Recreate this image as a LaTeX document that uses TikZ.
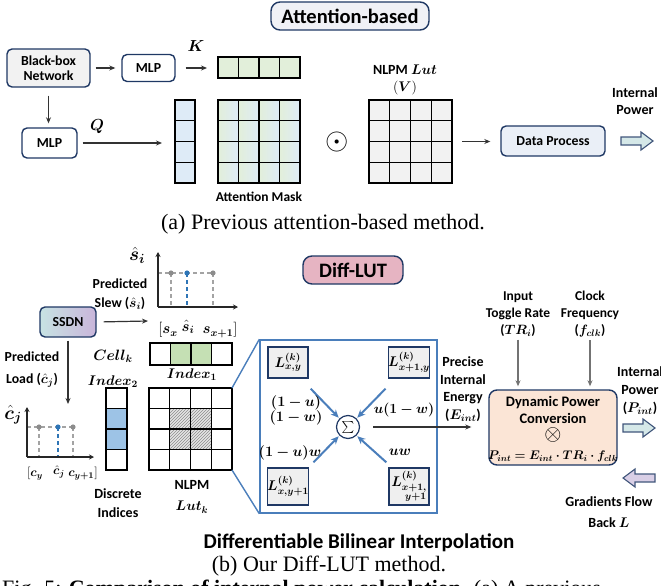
\RequirePackage{fix-cm}
\documentclass[tikz,border=0pt]{standalone}
\usepackage{amsmath}
\usepackage{bm}
\usepackage{fontspec}
\setmainfont{Carlito}
\newfontfamily\capfont{Liberation Serif}
\usetikzlibrary{arrows.meta,patterns,calc}
\definecolor{navy}{HTML}{1F3864}
\definecolor{titlefill}{HTML}{F0F1F6}
\definecolor{bbfill}{HTML}{F2F2F2}
\definecolor{kgreen}{HTML}{E2EFDA}
\definecolor{qblue}{HTML}{DEEBF7}
\definecolor{vgray}{HTML}{F2F2F2}
\definecolor{dpfill}{HTML}{EAEFF7}
\definecolor{tealarr}{HTML}{D5E8E8}
\definecolor{pinkfill}{HTML}{E6B4C2}
\definecolor{ssdnl}{HTML}{C7E3E3}
\definecolor{ssdnr}{HTML}{C9B5DA}
\definecolor{cgreen}{HTML}{C5E0B4}
\definecolor{iblue}{HTML}{9DC3E6}
\definecolor{ibord}{HTML}{4A7EBB}
\definecolor{sbox}{HTML}{EFEFEF}
\definecolor{dpcfill}{HTML}{FBE5D6}
\definecolor{lavarr}{HTML}{D9CFE6}
\definecolor{dotblue}{HTML}{2E75B6}
\definecolor{dotgray}{HTML}{8C8C8C}
\newcommand{\gridV}[2]{\foreach \ff in {#2} \draw[gridln] ($(#1.north west)!\ff!(#1.north east)$) -- ($(#1.south west)!\ff!(#1.south east)$);}
\newcommand{\gridH}[2]{\foreach \ff in {#2} \draw[gridln] ($(#1.north west)!\ff!(#1.south west)$) -- ($(#1.north east)!\ff!(#1.south east)$);}
\newcommand{\frameit}[1]{\draw[gridln] (#1.north west) rectangle (#1.south east);}
% fat hollow arrows: #1 centre coordinate, #2 fill, #3 direction (1 right, -1 left)
\newcommand{\fatarrow}[3]{\draw[fatst, fill=#2] ($(#1)+(-16*#3,-4)$) -- ++(20*#3,0) -- ++(0,-5) -- ++(12*#3,9) -- ++(-12*#3,9) -- ++(0,-5) -- ++(-20*#3,0) -- cycle;}
\tikzset{
 rbox/.style={draw=navy, line width=1.4pt, rounded corners=5pt, align=center, font=\fontsize{13.8}{15}\selectfont\bfseries, inner sep=1pt},
 lbl/.style={align=center, font=\fontsize{14}{17}\selectfont\bfseries, inner sep=1pt},
 mlbl/.style={align=center, font=\fontsize{14}{16}\selectfont, inner sep=1pt},
 arr/.style={draw=black!80, line width=1.1pt, -{Stealth[length=6pt,width=5pt]}},
 garr/.style={draw=black!55, line width=1.2pt, -{Stealth[length=6pt,width=5pt]}},
 barr/.style={draw=ibord, line width=2pt, -{Stealth[length=8pt,width=7pt]}},
 gridln/.style={draw=black, line width=1.3pt},
 emptybox/.style={inner sep=0pt, outer sep=0pt},
 fatst/.style={draw=navy!85, line width=1.1pt, line join=miter},
 sbx/.style={draw=navy, line width=1.3pt, fill=sbox, minimum width=40pt, inner sep=0pt, align=center, font=\fontsize{14}{14}\selectfont},
 dashg/.style={draw=dotgray!80, line width=1.1pt, dash pattern=on 4pt off 3pt},
 dashb/.style={draw=dotblue, line width=1.3pt, dash pattern=on 4pt off 3pt},
 axis/.style={draw=black!85, line width=1.3pt, -{Stealth[length=5pt,width=5pt]}},
}
\begin{document}
\begin{tikzpicture}[x=1pt,y=-1pt]
\useasboundingbox (0,0) rectangle (661,586);
% ---------------- (a) ----------------
\node[rbox, fill=titlefill, minimum width=158pt, minimum height=28pt, rounded corners=9pt, font=\fontsize{20.5}{22}\selectfont\bfseries] (t1) at (350,16) {Attention-based};
\node[rbox, fill=bbfill, minimum width=83pt, minimum height=38pt] (bb) at (48.5,68) {Black-box\\Network};
\node[rbox, fill=white, minimum width=53pt, minimum height=27pt] (mlp1) at (148.5,68) {MLP};
\node[emptybox, fill=kgreen, minimum width=82pt, minimum height=21pt] (krow) at (259,67.5) {};
\gridV{krow}{0.25,0.5,0.75}\frameit{krow}
\draw[arr, shorten <=5pt, shorten >=6pt] (bb.east) -- (bb.east -| mlp1.west);
\draw[arr, shorten <=10pt, shorten >=11pt] (mlp1.east) -- (mlp1.east -| krow.west);
\node[mlbl, font=\fontsize{16}{16}\selectfont] (klab) at (196,46) {$\bm{K}$};
\node[rbox, fill=white, minimum width=55pt, minimum height=30pt] (mlp2) at (49.5,143) {MLP};
\draw[arr, shorten <=8pt, shorten >=4pt] (bb.south) -- (bb.south |- mlp2.north);
\node[emptybox, fill=qblue, minimum width=20pt, minimum height=83pt] (qcol) at (185,141.5) {};
\gridH{qcol}{0.25,0.5,0.75}\frameit{qcol}
\draw[arr, shorten <=5pt, shorten >=13pt] (mlp2.east) -- (mlp2.east -| qcol.west);
\node[mlbl, font=\fontsize{16}{16}\selectfont] (qlab) at (97,127) {$\bm{Q}$};
\node[emptybox, minimum width=82pt, minimum height=83pt] (mask) at (259,141.5) {};
\foreach \i in {0,1,2,3} \foreach \j in {0,1,2,3}
  \shade[left color=kgreen, right color=qblue] ($(mask.north west)+(\i*20.5,\j*20.75)$) rectangle ++(20.5,20.75);
\gridV{mask}{0.25,0.5,0.75}\gridH{mask}{0.25,0.5,0.75}\frameit{mask}
\node[lbl, font=\fontsize{13.5}{15}\selectfont\bfseries] (amlab) at (259,197) {Attention Mask};
\node[font=\fontsize{30}{30}\selectfont, inner sep=0pt] (odot) at (337,142) {$\odot$};
\node[emptybox, fill=vgray, minimum width=83pt, minimum height=83pt] (vgrid) at (410.5,141.5) {};
\gridV{vgrid}{0.25,0.5,0.75}\gridH{vgrid}{0.25,0.5,0.75}\frameit{vgrid}
\node[lbl, font=\fontsize{14}{17}\selectfont\bfseries] (vlab) at (405,80) {NLPM $\bm{Lut}$\\$(\bm{V})$};
\node[rbox, fill=dpfill, minimum width=104pt, minimum height=30pt] (dp) at (553,141) {Data Process};
\draw[arr, shorten <=10pt, shorten >=10pt] (vgrid.east) -- (vgrid.east -| dp.west);
\coordinate (outa) at (637,141);
\fatarrow{outa}{tealarr}{1}
\node[lbl] (ipa) at (635,101) {Internal\\Power};
\node[font=\capfont\fontsize{22}{24}\selectfont, inner sep=0pt] (capa) at (323,224) {(a) Previous attention-based method.};
% ---------------- (b) ----------------
\node[rbox, fill=pinkfill, minimum width=100pt, minimum height=28pt, rounded corners=9pt, font=\fontsize{20.5}{22}\selectfont\bfseries] (dl) at (353,270) {Diff-LUT};
\node[rbox, left color=ssdnl, right color=ssdnr, minimum width=56pt, minimum height=30pt] (ssdn) at (68,322) {SSDN};
% slew plot
\coordinate (so) at (158,307);
\coordinate (sy) at (158,252);
\coordinate (sx) at (238,307);
\coordinate (d1) at (171,273);
\coordinate (d2) at (187,273);
\coordinate (d3) at (213,273);
\draw[dashg] (so |- d1) -- (d3);
\draw[dashg] (d1) -- (d1 |- so);
\draw[dashg] (d3) -- (d3 |- so);
\draw[dashb] (d2) -- (d2 |- so);
\fill[dotgray] (d1) circle (2.6pt);
\fill[dotgray] (d3) circle (2.6pt);
\fill[dotblue] (d2) circle (2.6pt);
\draw[axis] (so) -- (sy);
\draw[axis] (so) -- (sx);
\coordinate (sin) at (148,321);
\draw[arr, line width=1.2pt, shorten <=7pt] (ssdn.east) -- (sin);
\node[lbl, font=\fontsize{13.8}{17}\selectfont\bfseries] (pslew) at (120,294) {Predicted\\[2pt]Slew ($\hat{\bm{s}}_{\bm{i}}$)};
\node[mlbl, font=\fontsize{19}{19}\selectfont] (shat) at (137,255) {$\hat{\bm{s}}_{\bm{i}}$};
\node[mlbl, font=\fontsize{15}{15}\selectfont] (sx1) at (168,330) {$[\bm{s_x}$};
\node[mlbl, font=\fontsize{15}{15}\selectfont] (sx2) at (188,327) {$\hat{\bm{s}}_{\bm{i}}$};
\node[mlbl, font=\fontsize{15}{15}\selectfont] (sx3) at (220,330) {$\bm{s_{x+1}}]$};
% load plot
\coordinate (lo) at (27,457);
\coordinate (ly) at (27,407);
\coordinate (lx) at (94,457);
\coordinate (e1) at (39,427);
\coordinate (e2) at (58,427);
\coordinate (e3) at (73,427);
\draw[dashg] (lo |- e1) -- (e3);
\draw[dashg] (e1) -- (e1 |- lo);
\draw[dashg] (e3) -- (e3 |- lo);
\draw[dashb] (e2) -- (e2 |- lo);
\fill[dotgray] (e1) circle (2.6pt);
\fill[dotgray] (e3) circle (2.6pt);
\fill[dotblue] (e2) circle (2.6pt);
\draw[axis] (lo) -- (ly);
\draw[axis] (lo) -- (lx);
\coordinate (lin) at (68,404);
\draw[arr, line width=1.2pt, shorten <=3pt] (ssdn.south) -- (lin);
\node[lbl, font=\fontsize{13.8}{17}\selectfont\bfseries] (pload) at (32,370) {Predicted\\[5pt]Load ($\hat{\bm{c}}_{\bm{j}}$)};
\node[mlbl, font=\fontsize{19}{19}\selectfont] (chat) at (13,415) {$\hat{\bm{c}}_{\bm{j}}$};
\node[mlbl, font=\fontsize{12.5}{12}\selectfont] (cx1) at (35,474) {$[\bm{c_y}$};
\node[mlbl, font=\fontsize{12.5}{12}\selectfont] (cx2) at (59,472) {$\hat{\bm{c}}_{\bm{j}}$};
\node[mlbl, font=\fontsize{12.5}{12}\selectfont] (cx3) at (83,474) {$\bm{c_{y+1}}]$};
% LUT pieces
\node[emptybox, fill=white, minimum width=82pt, minimum height=22pt] (cellrow) at (191,354) {};
\fill[cgreen] ($(cellrow.north west)!0.25!(cellrow.north east)$) rectangle ($(cellrow.south west)!0.75!(cellrow.south east)$);
\gridV{cellrow}{0.25,0.5,0.75}\frameit{cellrow}
\node[mlbl, font=\fontsize{15}{16}\selectfont] (cellk) at (113,356) {$\bm{Cell_k}$};
\node[mlbl, font=\fontsize{14}{16}\selectfont] (idx1) at (192,375) {$\bm{Index_1}$};
\node[mlbl, font=\fontsize{14}{16}\selectfont] (idx2) at (113,382) {$\bm{Index_2}$};
\node[emptybox, fill=white, minimum width=21pt, minimum height=82pt] (idxcol) at (116.5,429) {};
\fill[iblue] ($(idxcol.north west)!0.25!(idxcol.south west)$) rectangle ($(idxcol.north east)!0.75!(idxcol.south east)$);
\gridH{idxcol}{0.25,0.5,0.75}\frameit{idxcol}
\node[emptybox, fill=white, minimum width=83pt, minimum height=82pt] (nlpm) at (190.5,429) {};
\fill[black!10] ($(nlpm.north west)+(20.75,20.5)$) rectangle ($(nlpm.south east)+(-20.75,-20.5)$);
\fill[pattern=north east lines, pattern color=black!45] ($(nlpm.north west)+(20.75,20.5)$) rectangle ($(nlpm.south east)+(-20.75,-20.5)$);
\gridV{nlpm}{0.25,0.5,0.75}\gridH{nlpm}{0.25,0.5,0.75}\frameit{nlpm}
\node[lbl, font=\fontsize{14}{19}\selectfont\bfseries] (dilab) at (118,503) {Discrete\\Indices};
\node[lbl, font=\fontsize{14}{21}\selectfont\bfseries] (nllab) at (192,497) {NLPM\\$\bm{Lut_k}$};
% interpolation
\node[draw=ibord, line width=1.4pt, minimum width=177pt, minimum height=173pt, inner sep=0pt] (interp) at (348.5,426.5) {};
\draw[ibord, line width=1.4pt] (nlpm.north east) -- (interp.north west);
\draw[ibord, line width=1.4pt] (nlpm.south east) -- (interp.south west);
\node[sbx, minimum height=31pt] (tl) at (288,362.5) {$\bm{L^{(k)}_{x,y}}$};
\node[sbx, minimum height=31pt] (tr) at (409,362.5) {$\bm{L^{(k)}_{x+1,y}}$};
\node[sbx, minimum height=37pt] (bl) at (288,486.5) {$\bm{L^{(k)}_{x,y+1}}$};
\node[sbx, minimum height=37pt] (br) at (409,486.5) {$\bm{L^{(k)}_{\substack{x+1,\\ \;y+1}}}$};
\node[circle, draw=navy, line width=1.2pt, minimum size=23pt, inner sep=0pt, font=\fontsize{13}{13}\selectfont] (sig) at (348,427) {$\sum$};
\draw[barr, shorten >=1pt] ($(tl.south east)+(2,10)$) -- (sig.north west);
\draw[barr, shorten >=1pt] ($(tr.south west)+(-2,10)$) -- (sig.north east);
\draw[barr, shorten >=1pt] ($(bl.north east)+(4,-5)$) -- (sig.south west);
\draw[barr, shorten >=1pt] ($(br.north west)+(-2,-5)$) -- (sig.south east);
\node[mlbl, font=\fontsize{14.5}{15}\selectfont] (w1) at (296,410.5) {$\bm{(1-u)}$\\$\bm{(1-w)}$};
\node[mlbl, font=\fontsize{14}{15}\selectfont] (w2) at (404,410) {$\bm{u(1-w)}$};
\node[mlbl, font=\fontsize{14.5}{15}\selectfont] (w3) at (290,453) {$\bm{(1-u)w}$};
\node[mlbl, font=\fontsize{14.5}{15}\selectfont] (w4) at (400,452) {$\bm{uw}$};
% dynamic power
\node[rbox, fill=dpcfill, minimum width=128pt, minimum height=75pt, rounded corners=8pt] (dpc) at (553,427.5) {};
\node[lbl, font=\fontsize{14.5}{16.5}\selectfont\bfseries] (dpct) at (553,410) {Dynamic Power\\Conversion};
\node[font=\fontsize{22}{22}\selectfont, inner sep=0pt] (otim) at (553,435) {$\otimes$};
\node[mlbl, font=\fontsize{12.5}{12}\selectfont] (peq) at (553,456) {$\bm{P_{int}=E_{int}\cdot TR_i\cdot f_{clk}}$};
\draw[arr, line width=1.5pt, shorten <=13pt, shorten >=17pt] (sig.east) -- (sig.east -| dpc.west);
\node[lbl, font=\fontsize{14}{17.5}\selectfont\bfseries] (elab) at (463,389) {Precise\\Internal\\Energy\\($\bm{E_{int}}$)};
\node[lbl, font=\fontsize{13.5}{17}\selectfont\bfseries] (inp) at (518,314) {Input\\Toggle Rate\\($\bm{TR_i}$)};
\node[lbl, font=\fontsize{13.5}{17}\selectfont\bfseries] (clk) at (590,314) {Clock\\Frequency\\($\bm{f_{clk}}$)};
\draw[garr, shorten <=2pt, shorten >=3pt] (inp.south) -- (inp.south |- dpc.north);
\draw[garr, shorten <=2pt, shorten >=3pt] (clk.south) -- (clk.south |- dpc.north);
\node[lbl, font=\fontsize{14}{18}\selectfont\bfseries] (ipb) at (640,391) {Internal\\Power\\($\bm{P_{int}}$)};
\coordinate (outb) at (639,428);
\fatarrow{outb}{tealarr}{1}
\coordinate (gback) at (639,478);
\fatarrow{gback}{lavarr}{-1}
\node[lbl, font=\fontsize{14}{21}\selectfont\bfseries] (gfb) at (609,512) {Gradients Flow\\Back $\bm{L}$};
\node[font=\fontsize{21}{22}\selectfont\bfseries, inner sep=0pt] (dbi) at (359,543) {Differentiable Bilinear Interpolation};
\node[font=\capfont\fontsize{22}{24}\selectfont, inner sep=0pt] (capb) at (329,566) {(b) Our Diff-LUT method.};
\node[anchor=base west, font=\capfont\fontsize{22}{24}\selectfont, inner sep=0pt] (cut) at (2,595) {Fig. 5: \textbf{Comparison of internal power calculation.} (a) A previous};
\end{tikzpicture}
\end{document}
